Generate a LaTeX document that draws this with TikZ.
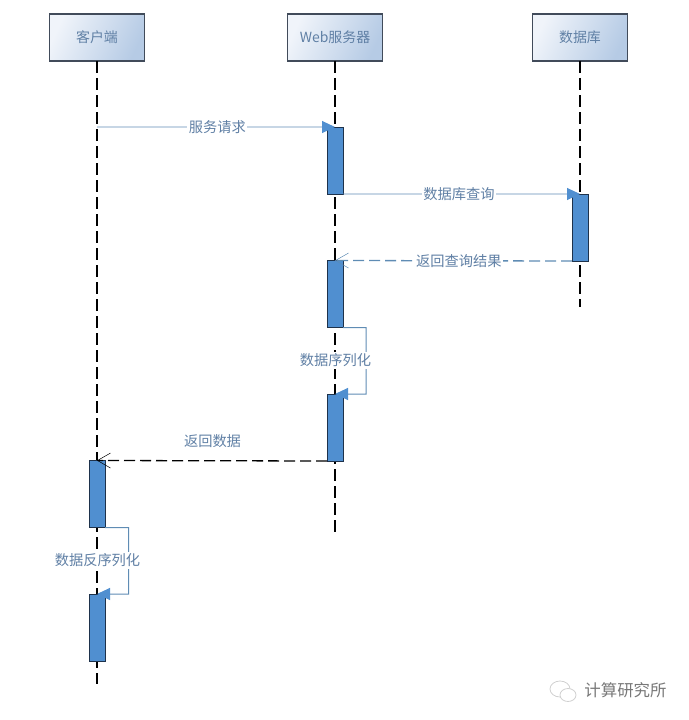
\documentclass[tikz,border=0pt]{standalone}
\usepackage{fontspec}
\setmainfont{Noto Sans CJK SC}
\definecolor{seqtext}{RGB}{96,128,165}
\definecolor{seqline}{RGB}{95,140,180}
\definecolor{seqfill}{RGB}{80,143,208}
\definecolor{seqedge}{RGB}{30,50,75}
\definecolor{seqborder}{RGB}{65,75,90}
\definecolor{seqlight}{RGB}{240,244,250}
\definecolor{seqdark}{RGB}{182,203,229}
\definecolor{seqmark}{RGB}{120,120,120}
\usetikzlibrary{arrows.meta,positioning,calc}
\tikzset{
  actor/.style={draw=seqborder,line width=1.1pt,left color=seqlight,right color=seqdark,shading angle=65,
        text=seqtext,font=\fontsize{14}{16}\selectfont,minimum width=95bp,minimum height=47bp,inner sep=0pt,outer sep=0pt},
  lifeline/.style={black,line width=1.3pt,dash pattern=on 12bp off 5bp},
  active/.style={draw=seqedge,fill=seqfill,line width=1pt,minimum width=16bp,minimum height=67bp,inner sep=0pt,outer sep=0pt},
  msglabel/.style={text=seqtext,font=\fontsize{14.3}{16}\selectfont,inner sep=1.5pt},
  msglabelbg/.style={msglabel,fill=white},
  callmsg/.style={seqline,line width=1pt,-{Triangle[length=13bp,width=12bp,fill=seqfill,color=seqfill]}},
  replymsg/.style={seqline,line width=1.3pt,dash pattern=on 11bp off 5bp,-{Straight Barb[length=13bp,width=15bp,line width=0.5pt]}},
  backmsg/.style={black,line width=1.3pt,dash pattern=on 11bp off 5bp,-{Straight Barb[length=13bp,width=15bp,line width=0.5pt]}}
}
\begin{document}
\begin{tikzpicture}[x=1bp,y=-1bp]
  \useasboundingbox (0,0) rectangle (689,720);

  %% Column headers
  \node[actor] (client) at (97,37.5) {客户端};
  \node[actor] (web) at (335,37.5) {Web服务器};
  \node[actor] (db) at (580,37.5) {数据库};

  %% Lifelines
  \coordinate (clientend) at (97,684);
  \coordinate (webend) at (335,534);
  \coordinate (dbend) at (580,307);
  \draw[lifeline] (client.south) -- (clientend);
  \draw[lifeline] (web.south) -- (webend);
  \draw[lifeline] (db.south) -- (dbend);

  %% Activation bars
  \node[active] (weba) at (335,160.5) {};
  \node[active] (dba) at (580,227.5) {};
  \node[active] (webb) at (335,294) {};
  \node[active] (webc) at (335,427.5) {};
  \node[active] (clienta) at (97,494) {};
  \node[active] (clientb) at (97,627.5) {};

  %% Messages
  \coordinate (reqstart) at (97,127);
  \draw[callmsg] (reqstart) -- node[msglabelbg,pos=0.506] (reqlabel) {服务请求} (weba.north);
  \draw[callmsg] (weba.south east) -- node[msglabelbg,pos=0.489] (querylabel) {数据库查询} (dba.north);
  \draw[replymsg] (dba.south west) -- node[msglabelbg,pos=0.477] (resultlabel) {返回查询结果} (webb.north);
  \draw[backmsg] (webc.south west) -- (clienta.north);
  \node[msglabel] (backlabel) at (212.5,441) {返回数据};

  %% Self calls
  \coordinate (serialtop) at (366,327.5);
  \coordinate (serialbot) at (366,394);
  \draw[callmsg] (webb.south east) -- (serialtop) -- (serialbot) -- (webc.north);
  \node[msglabelbg] (seriallabel) at (335.5,360.5) {数据序列化};
  \coordinate (desertop) at (128.5,527.5);
  \coordinate (deserbot) at (128.5,594);
  \draw[callmsg] (clienta.south east) -- (desertop) -- (deserbot) -- (clientb.north);
  \node[msglabelbg] (deserlabel) at (97.5,560.5) {数据反序列化};

  %% Watermark
  \draw[seqmark!35,line width=0.8pt] (560,689) ellipse [x radius=10,y radius=8];
  \draw[seqmark!35,line width=0.8pt,fill=white] (568,695) ellipse [x radius=8,y radius=6.5];
  \node[text=seqmark,font=\fontsize{16.5}{18}\selectfont,inner sep=0pt] (marklabel) at (625.5,690) {计算研究所};
\end{tikzpicture}
\end{document}
